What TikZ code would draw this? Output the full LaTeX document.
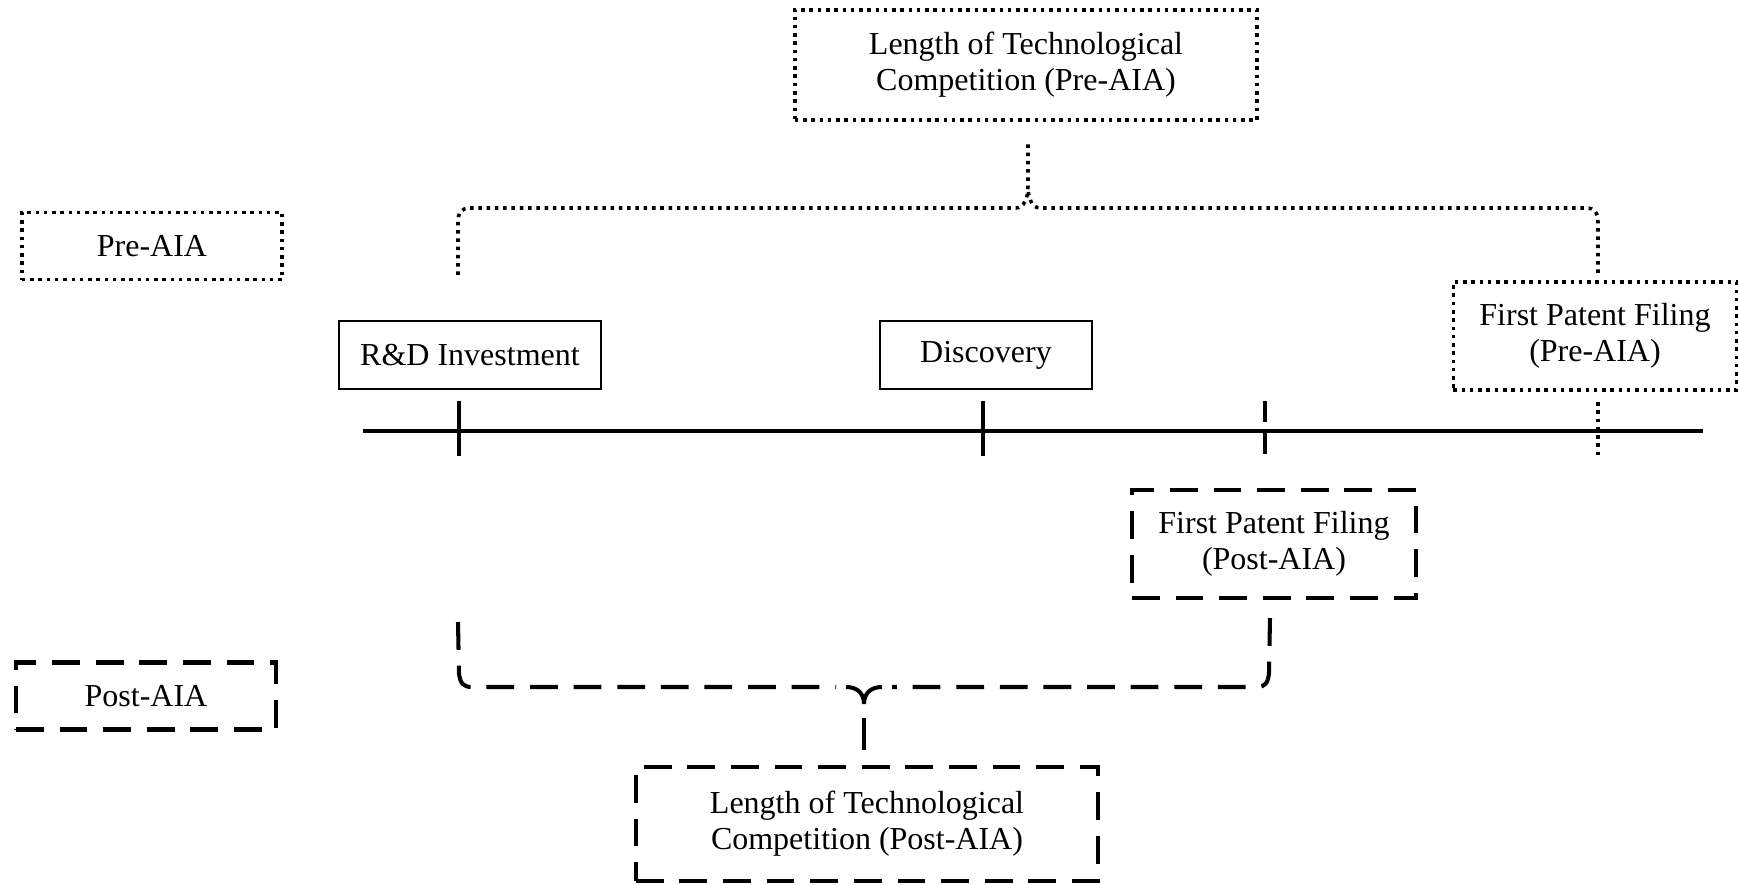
\documentclass[tikz,border=0pt]{standalone}
\usepackage{fontspec}
\setmainfont{Liberation Serif}
\usepackage{tikz}
\tikzset{dotline/.style={line width=1pt, dash pattern=on 1pt off 1.35pt},
    dashline/.style={line width=1.15pt, dash pattern=on 7.9pt off 4.5pt},
    lbl/.style={inner sep=0pt, align=center, font=\fontsize{9.1pt}{10.3pt}\selectfont},
    prebox/.style={lbl, draw, dotline},
    postbox/.style={lbl, draw, dashline},
    solidbox/.style={lbl, draw, line width=0.6pt}}
\newcommand{\axiswidth}{1.15pt}

\begin{document}
\begin{tikzpicture}[x=0.01cm, y=-0.01cm]
    \useasboundingbox (0,0) rectangle (1738,885);
    % boxes
    \node[prebox, minimum width=4.62cm, minimum height=1.10cm] (prelen) at (1026,65) {Length of Technological\\Competition (Pre-AIA)};
    \node[prebox, minimum width=2.60cm, minimum height=0.67cm] (prelegend) at (152,246) {Pre-AIA};
    \node[postbox, minimum width=2.60cm, minimum height=0.67cm] (postlegend) at (146,696) {Post-AIA};
    \node[solidbox, minimum width=2.61cm, minimum height=0.68cm] (rd) at (470,355) {R\&D Investment};
    \node[solidbox, minimum width=2.11cm, minimum height=0.68cm] (disc) at (986,355) {Discovery};
    \node[prebox, minimum width=2.83cm, minimum height=1.08cm] (prefile) at (1595,336) {First Patent Filing\\(Pre-AIA)};
    \node[postbox, minimum width=2.84cm, minimum height=1.08cm] (postfile) at (1274,544) {First Patent Filing\\(Post-AIA)};
    \node[postbox, minimum width=4.62cm, minimum height=1.14cm] (postlen) at (867,824) {Length of Technological\\Competition (Post-AIA)};

    % time line
    \coordinate (tstart) at (363,431);
    \coordinate (tend) at (1703,431);
    \draw[line width=\axiswidth] (tstart) -- (tend);
    \draw[line width=1pt] (459,401) -- (459,456);
    \draw[line width=1pt] (983,401) -- (983,456);
    \draw[dashline, line width=1pt, dash pattern=on 6pt off 3pt] (1265,401) -- (1265,462);
    \draw[dotline] (1598,402) -- (1598,458);

    % braces
    \coordinate (pretip) at (1028,143);
    \coordinate (premid) at (1028,186);
    \draw[dotline] (458,275) -- (458,222) .. controls (458,212) and (462,208) .. (470,208)
        -- (1016,208) .. controls (1024,208) and (1028,198) .. (premid) -- (pretip);
    \draw[dotline] (1598,273) -- (1598,222) .. controls (1598,212) and (1594,208) .. (1586,208)
        -- (1040,208) .. controls (1032,208) and (1028,198) .. (premid);
    \coordinate (posttip) at (864,750);
    \coordinate (postmid) at (864,704);
    \draw[dashline] (458,622) -- (459,673) .. controls (460,683) and (463,687) .. (472,687) -- (836,687);
    \draw[dashline] (1270,618) -- (1269,673) .. controls (1268,683) and (1265,687) .. (1257,687) -- (892,687);
    \draw[line width=1.15pt] (846,687) .. controls (858,687) and (864,694) .. (postmid)
        .. controls (864,694) and (870,687) .. (882,687);
    \draw[line width=1.15pt] (864,718) -- (posttip);
\end{tikzpicture}
\end{document}
